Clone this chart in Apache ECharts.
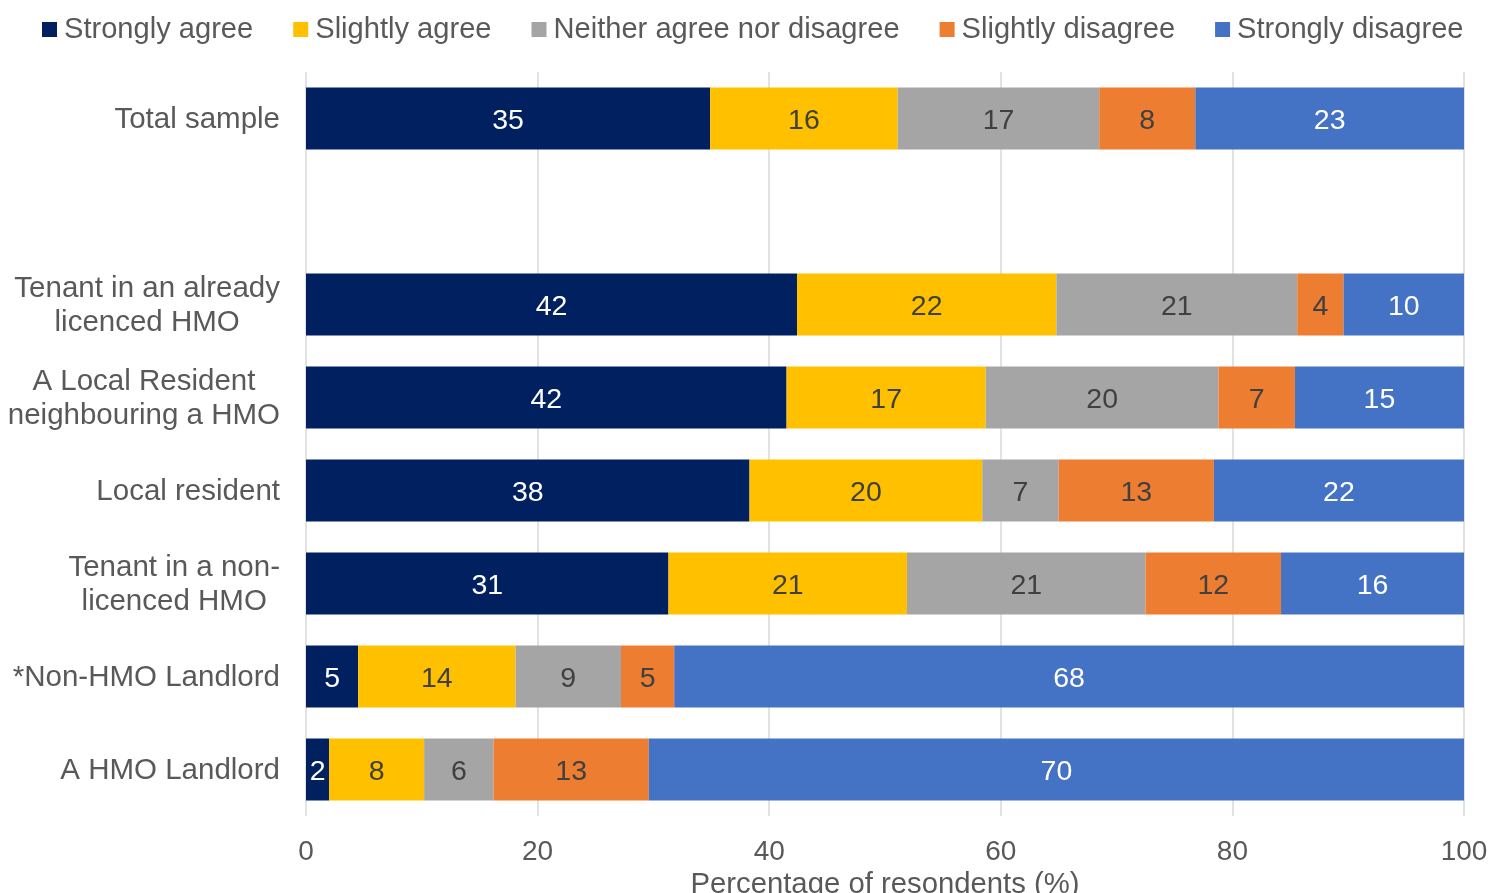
<!DOCTYPE html>
<html>
<head>
<meta charset="utf-8">
<script src="https://cdn.jsdelivr.net/npm/echarts@6/dist/echarts.min.js"></script>
<style>
html,body{margin:0;padding:0;background:#fff;}
#chart{width:1493px;height:893px;}
</style>
</head>
<body>
<div id="chart"></div>
<script>
var categories = [
  'Total sample',
  '',
  'Tenant in an already\nlicenced HMO',
  'A Local Resident\nneighbouring a HMO',
  'Local resident',
  'Tenant in a non-\nlicenced HMO',
  '*Non-HMO Landlord',
  'A HMO Landlord'
];
var seriesNames = ['Strongly agree', 'Slightly agree', 'Neither agree nor disagree', 'Slightly disagree', 'Strongly disagree'];
var stronglyAgree    = [34.9, null, 42.4, 41.5, 38.3, 31.3, 4.5, 2.0];
var slightlyAgree    = [16.2, null, 22.4, 17.2, 20.1, 20.6, 13.6, 8.2];
var neither          = [17.4, null, 20.8, 20.1, 6.6, 20.6, 9.1, 6.0];
var slightlyDisagree = [8.3, null, 4.0, 6.6, 13.4, 11.7, 4.6, 13.4];
var stronglyDisagree = [23.2, null, 10.4, 14.6, 21.6, 15.8, 68.2, 70.4];
var xTicks = [0, 20, 40, 60, 80, 100];
var xTitle = 'Percentage of resondents (%)';

var colors = ['#002060', '#FFC000', '#A5A5A5', '#ED7D31', '#4472C4'];
var labelColors = ['#FFFFFF', '#404040', '#404040', '#404040', '#FFFFFF'];
var allData = [stronglyAgree, slightlyAgree, neither, slightlyDisagree, stronglyDisagree];
var FONT = '"Liberation Sans", Arial, sans-serif';
var TXT = '#595959';

var series = seriesNames.map(function (name, i) {
  return {
    name: name,
    type: 'bar',
    stack: 'total',
    barWidth: 62,
    itemStyle: { color: colors[i] },
    label: {
      show: true,
      position: 'inside',
      offset: [0, 3],
      fontFamily: FONT,
      fontSize: 28.5,
      color: labelColors[i],
      formatter: function (p) { return p.value == null ? '' : String(Math.round(p.value)); }
    },
    emphasis: { disabled: true },
    data: allData[i]
  };
});

var chart = echarts.init(document.getElementById('chart'), null, { renderer: 'canvas' });
chart.setOption({
  animation: false,
  backgroundColor: '#ffffff',
  textStyle: { fontFamily: FONT },
  legend: {
    left: 42,
    top: 15,
    padding: 0,
    itemWidth: 15,
    itemHeight: 15,
    itemGap: 40,
    icon: 'rect',
    data: seriesNames,
    textStyle: { fontFamily: FONT, fontSize: 29.1, color: TXT, padding: [0, 0, 0, 2] }
  },
  grid: {
    left: 306,
    right: 29,
    top: 72,
    bottom: 77,
    containLabel: false,
    outerBoundsMode: 'none'
  },
  xAxis: {
    type: 'value',
    min: 0,
    max: 100,
    interval: 20,
    name: xTitle,
    nameLocation: 'middle',
    nameGap: 42,
    nameTextStyle: { fontFamily: FONT, fontSize: 29.3, color: TXT },
    axisLine: { show: false },
    axisTick: { show: false },
    axisLabel: {
      fontFamily: FONT, fontSize: 28, color: TXT, margin: 22,
      formatter: function (v) { return xTicks.indexOf(v) >= 0 ? String(v) : ''; }
    },
    splitLine: { show: true, lineStyle: { color: '#D9D9D9', width: 1.5 } }
  },
  yAxis: {
    type: 'category',
    inverse: true,
    data: categories,
    axisLine: { show: false },
    axisTick: { show: false },
    axisLabel: {
      margin: 26,
      padding: [3, 0, 0, 0],
      fontFamily: FONT,
      fontSize: 29.5,
      color: TXT,
      lineHeight: 34,
      formatter: function (v) {
        if (!v) return '';
        return v.split('\n').map(function (l) { return '{c|' + l + '}'; }).join('\n');
      },
      rich: {
        c: { align: 'center', fontFamily: FONT, fontSize: 29.5, color: TXT, lineHeight: 34 }
      }
    }
  },
  series: series
});
</script>
</body>
</html>
